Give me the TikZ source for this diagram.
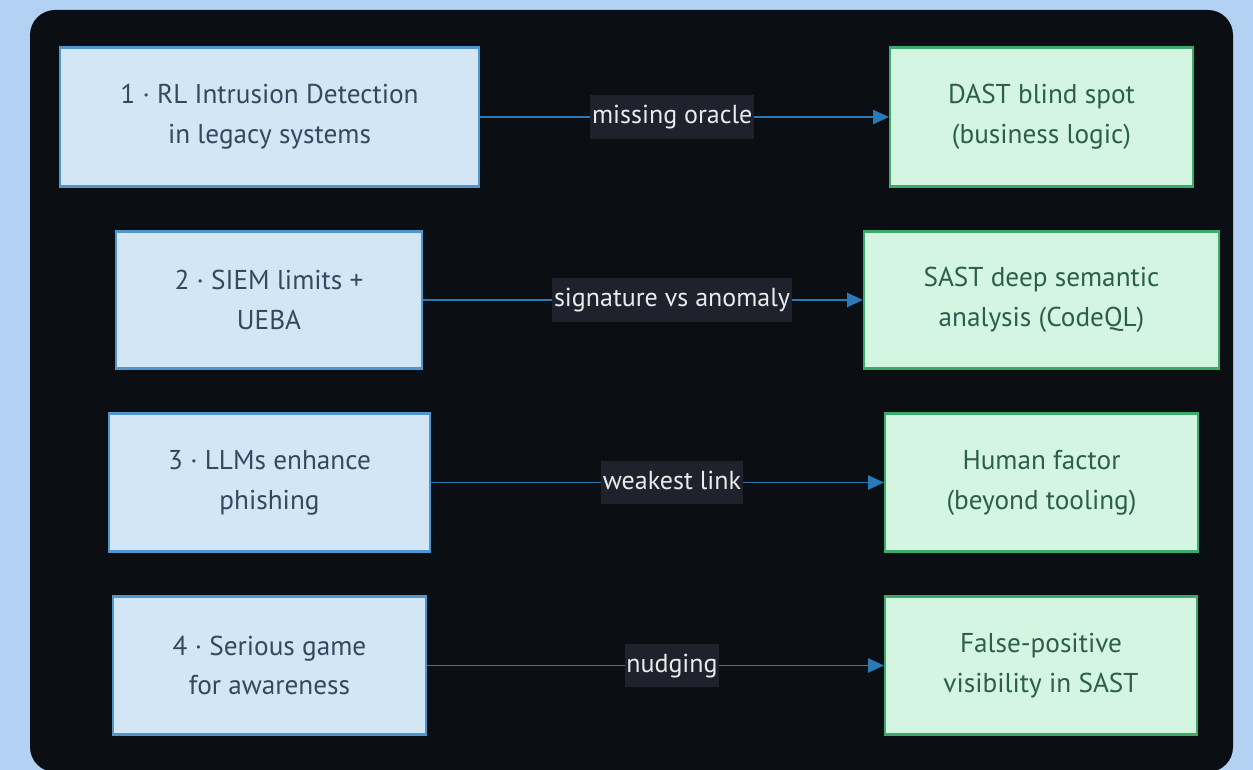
\documentclass[tikz,border=0pt]{standalone}
\usepackage{fontspec}
\setmainfont{PT Sans}
\usetikzlibrary{arrows.meta}
\definecolor{pagebg}{HTML}{B3D1F2}
\definecolor{panelbg}{HTML}{0B0F14}
\definecolor{leftfill}{HTML}{D3E6F6}
\definecolor{leftdraw}{HTML}{4F96CF}
\definecolor{lefttext}{HTML}{34495E}
\definecolor{rightfill}{HTML}{D3F5E1}
\definecolor{rightdraw}{HTML}{3DA96A}
\definecolor{righttext}{HTML}{2D5E4C}
\definecolor{linkcol}{HTML}{2A7AB8}
\definecolor{labelbg}{HTML}{1F222D}
\tikzstyle{issue} = [rectangle, draw=leftdraw, line width=1.2pt, fill=leftfill, text=lefttext, align=center, inner sep=0pt, font=\fontsize{15.5}{22.7}\selectfont]
\tikzstyle{answer} = [rectangle, draw=rightdraw, line width=1.2pt, fill=rightfill, text=righttext, align=center, inner sep=0pt, font=\fontsize{15.5}{22.7}\selectfont]
\tikzstyle{link} = [draw=linkcol, line width=1.1pt, -{Triangle[length=9pt, width=8pt]}]
\tikzstyle{tag} = [fill=labelbg, text=white!92!black, inner xsep=1pt, inner ysep=5pt, text height=11pt, text depth=3.5pt, font=\fontsize{14.8}{17}\selectfont]

\begin{document}
\begin{tikzpicture}[x=0.02cm, y=-0.02cm]
    \useasboundingbox (0,0) rectangle (1253,770);
    \fill[pagebg] (0,0) rectangle (1253,770);
    \fill[panelbg, rounded corners=0.5cm] (30,10) rectangle (1233,772);

    % left column
    \node [issue, minimum width=8.38cm, minimum height=2.78cm] at (269.5,117) (l1) {1 · RL Intrusion Detection\\in legacy systems};
    \node [issue, minimum width=6.12cm, minimum height=2.74cm] at (269,300) (l2) {2 · SIEM limits +\\UEBA};
    \node [issue, minimum width=6.42cm, minimum height=2.76cm] at (269.5,482.5) (l3) {3 · LLMs enhance\\phishing};
    \node [issue, minimum width=6.26cm, minimum height=2.76cm] at (269.5,665.5) (l4) {4 · Serious game\\for awareness};

    % right column
    \node [answer, minimum width=6.06cm, minimum height=2.78cm] at (1041.5,117) (r1) {DAST blind spot\\(business logic)};
    \node [answer, minimum width=7.10cm, minimum height=2.74cm] at (1041.5,300) (r2) {SAST deep semantic\\analysis (CodeQL)};
    \node [answer, minimum width=6.26cm, minimum height=2.76cm] at (1041.5,482.5) (r3) {Human factor\\(beyond tooling)};
    \node [answer, minimum width=6.24cm, minimum height=2.76cm] at (1041,665.5) (r4) {False-positive\\visibility in SAST};

    \draw [link] (l1) -- node[tag, pos=0.47] {missing oracle} (r1);
    \draw [link] (l2) -- node[tag, pos=0.566] {signature vs anomaly} (r2);
    \draw [link] (l3) -- node[tag, pos=0.532] {weakest link} (r3);
    \draw [link] (l4) -- node[tag, pos=0.536] {nudging} (r4);
\end{tikzpicture}
\end{document}
